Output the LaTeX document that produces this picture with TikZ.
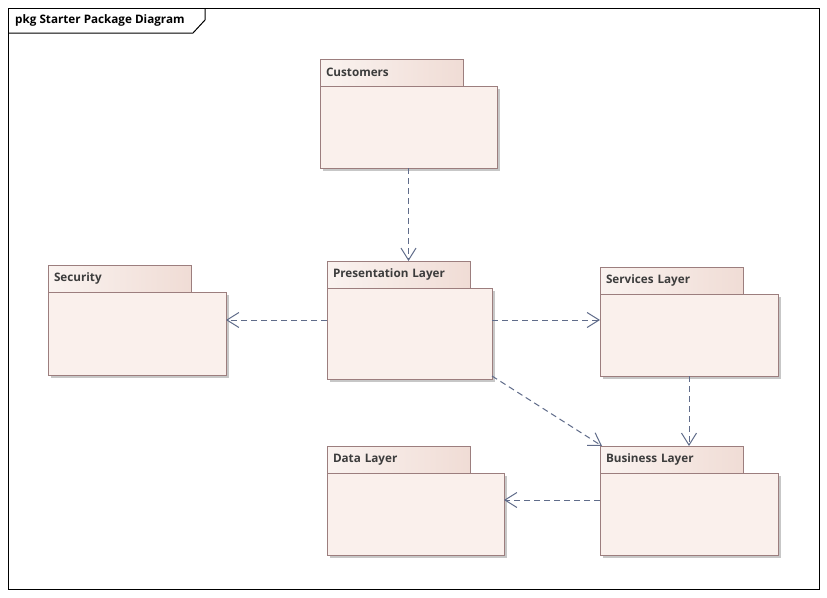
\documentclass[tikz,border=0pt]{standalone}
\usepackage{fontspec}
\setmainfont{Open Sans}
\usetikzlibrary{arrows.meta,shadows}

\definecolor{pkgline}{HTML}{9C7E7E}
\definecolor{pkgfill}{HTML}{FAF0EC}
\definecolor{tabL}{HTML}{FAF3F0}
\definecolor{tabR}{HTML}{F0DCD5}
\definecolor{depline}{HTML}{606C8A}
\definecolor{pkgtext}{HTML}{3C3C3C}

\tikzset{
  pkgbody/.style={draw=pkgline, fill=pkgfill, line width=1pt, anchor=north west,
    inner sep=0pt, outer sep=0pt,
    drop shadow={shadow xshift=3pt, shadow yshift=-3pt, fill=black!22, opacity=1}},
  pkgtab/.style={draw=pkgline, left color=tabL, right color=tabR, line width=1pt,
    anchor=north west, inner xsep=6pt, inner ysep=0pt, outer sep=0pt,
    minimum height=27pt, text width=131pt, align=left, text=pkgtext,
    font=\fontsize{11.7}{13}\selectfont\bfseries},
  depend/.style={draw=depline, line width=1pt, dash pattern=on 6pt off 4pt,
    -{Straight Barb[length=12pt, width=15pt, line width=1pt]}},
  frame/.style={draw=black, line width=1pt}
}

% package: name, label, x, tab top y, body width, body height
\newcommand\umlpkg[6]{%
  \node[pkgtab] (#1tab) at (#3,#4) {#2};
  \node[pkgbody, minimum width=#5pt, minimum height=#6pt] (#1) at (#3,#4+27) {};
}

\begin{document}
\begin{tikzpicture}[x=1pt, y=-1pt]
  \useasboundingbox[fill=white] (0,0) rectangle (827,597);

  % diagram frame with its name tab
  \draw[frame] (8,8) rectangle (819,589);
  \draw[frame] (8,33) -- (193,33) -- (205,20) -- (205,8);
  \node[anchor=west, inner sep=0pt, font=\fontsize{11.7}{13}\selectfont\bfseries] (title)
    at (15,20.5) {pkg Starter Package Diagram};

  % packages
  \umlpkg{cust}{Customers}{320}{59}{177}{82}
  \umlpkg{sec}{Security}{48}{265}{178}{83}
  \umlpkg{pres}{Presentation Layer}{327}{261}{165}{91}
  \umlpkg{serv}{Services Layer}{600}{267}{178}{82}
  \umlpkg{data}{Data Layer}{327}{446}{177}{82}
  \umlpkg{bus}{Business Layer}{600}{446}{178}{82}

  % dependencies
  \coordinate (presL) at ([yshift=13.5pt]pres.west);
  \coordinate (presR) at ([yshift=13.5pt]pres.east);
  \coordinate (busL) at ([yshift=14pt]bus.west);
  \draw[depend] (cust.south) -- (cust.south |- prestab.north);
  \draw[depend] (presL) -- (sec.east |- presL);
  \draw[depend] (presR) -- (serv.west |- presR);
  \draw[depend] ([yshift=3pt]pres.south east) -- ([xshift=2pt]bustab.north west);
  \draw[depend] (serv.south) -- (serv.south |- bustab.north);
  \draw[depend] (busL) -- (data.east |- busL);
\end{tikzpicture}
\end{document}
